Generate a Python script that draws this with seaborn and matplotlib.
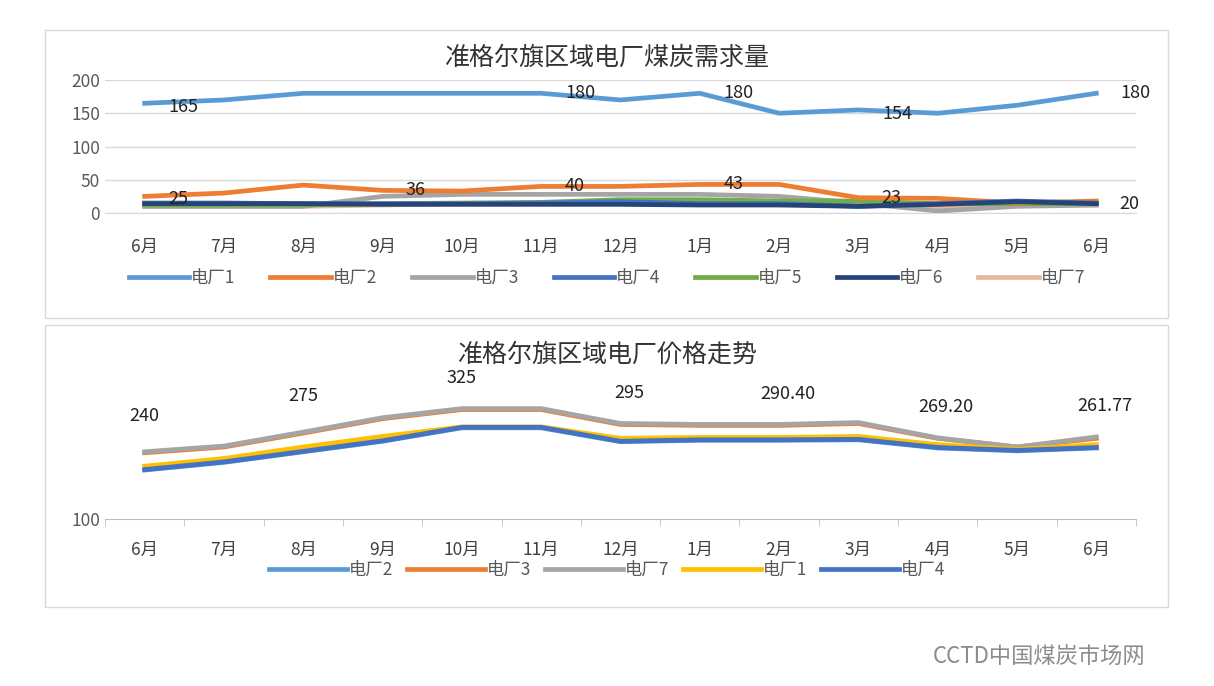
import matplotlib
matplotlib.use("Agg")
import matplotlib.pyplot as plt
from matplotlib import font_manager as fm
import seaborn as sns
import pandas as pd
from matplotlib.patches import Rectangle

cjk = [f.name for f in fm.fontManager.ttflist if "CJK" in f.name]
plt.rcParams["font.family"] = ["Noto Sans CJK SC"] + sorted(set(cjk)) + ["DejaVu Sans"]

months = ["6月","7月","8月","9月","10月","11月","12月","1月","2月","3月","4月","5月","6月"]

# Coal demand
d1 = [165,170,180,180,180,180,170,180,150,155,150,162,180]
d2 = [25,30,42,34,33,40,40,43,43,23,22,15,18]
d3 = [10,10,10,25,28,28,28,28,25,15,3,10,12]
d4 = [15,15,14,14,14,15,17,14,14,10,14,18,15]
d5 = [12,12,12,14,15,16,20,20,18,18,14,14,14]
d6 = [14,14,14,13,13,13,13,12,12,10,13,17,14]
d7 = [10,10,10,12,14,15,15,15,15,12,8,12,12]
demand_names = ["电厂1","电厂2","电厂3","电厂4","电厂5","电厂6","电厂7"]
demand_colors = ["#5B9BD5","#ED7D31","#A5A5A5","#4472C4","#70AD47","#264478","#E8B79A"]
demand_labels_1 = [(0,"165"),(5,"180"),(7,"180"),(9,"154"),(12,"180")]
demand_labels_2 = [(0,"25"),(3,"36"),(5,"40"),(7,"43"),(9,"23"),(12,"20")]

# Prices
p2 = [202,218,240,262,290,290,261,264,264,265,248,242,248]
p3 = [238,250,279,309,328,328,297,295,295,299,268,250,268]
p7 = [240,252,281,311,330,330,299,297,297,301,269,250,271]
p1 = [210,226,250,272,292,292,268,270,270,272,255,245,255]
p4 = [203,219,241,263,291,291,262,265,265,266,249,243,249]
price_names = ["电厂2","电厂3","电厂7","电厂1","电厂4"]
price_colors = ["#5B9BD5","#ED7D31","#A5A5A5","#FFC000","#4472C4"]
price_labels = ["240","","275","","325","","295","","290.40","","269.20","","261.77"]

fig = plt.figure(figsize=(12.14, 6.86), dpi=100)
W, H = 1214, 686
def box(x0, y0, x1, y1):
    fig.patches.append(Rectangle((x0/W, 1-y1/H), (x1-x0)/W, (y1-y0)/H,
                                 transform=fig.transFigure, fill=False, ec="#D9D9D9", lw=1))
box(45, 30, 1168, 318)
box(45, 325, 1168, 607)

idx = list(range(len(months)))

# --- top chart
ax1 = fig.add_axes([105/W, 1-213/H, 1031/W, 133/H])
demand = [d1,d2,d3,d4,d5,d6,d7]
df1 = pd.DataFrame([(i, v, n) for n, s in zip(demand_names, demand) for i, v in zip(idx, s)],
                   columns=["x","y","plant"])
order_draw = ["电厂7","电厂3","电厂5","电厂2","电厂4","电厂6","电厂1"]
pal1 = dict(zip(demand_names, demand_colors))
for n in order_draw:
    sns.lineplot(data=df1[df1.plant == n], x="x", y="y", color=pal1[n], lw=3.4, ax=ax1, legend=False)
ax1.set_xlim(-0.5, 12.5); ax1.set_ylim(0, 200)
ax1.set_yticks([0,50,100,150,200])
ax1.set_xticks(idx); ax1.set_xticklabels(months)
ax1.grid(axis="y", color="#D9D9D9", lw=1); ax1.set_axisbelow(True)
for s in ["top","right","left"]: ax1.spines[s].set_visible(False)
ax1.spines["bottom"].set_color("#D9D9D9")
ax1.tick_params(length=0, labelsize=12.5, colors="#595959")
ax1.tick_params(axis="x", pad=18, colors="#404040")
ax1.set_xlabel(""); ax1.set_ylabel("")
for i, t in demand_labels_1:
    ax1.annotate(t, (i, d1[i]), xytext=(28, -3 if i in (0, 9) else 0), textcoords="offset points",
                 ha="center", va="center", fontsize=13, color="#222222")
for i, t in demand_labels_2:
    ax1.annotate(t, (i, d2[i]), xytext=(24, 0 if i not in (0, 12) else -2), textcoords="offset points",
                 ha="center", va="center", fontsize=13, color="#222222")
fig.text(0.5, 1-58/H, "准格尔旗区域电厂煤炭需求量", ha="center", va="center", fontsize=18, color="#333333")
h1 = [plt.Line2D([], [], color=c, lw=3.4) for c in demand_colors]
fig.legend(h1, demand_names, loc="center", bbox_to_anchor=(0.5, 1-278/H), ncol=7, frameon=False,
           fontsize=12.5, handlelength=3.5, columnspacing=2.0, handletextpad=0.1, labelcolor="#595959")

# --- bottom chart
ax2 = fig.add_axes([105/W, 1-519/H, 1031/W, 144/H])
prices = [p2,p3,p7,p1,p4]
df2 = pd.DataFrame([(i, v, n) for n, s in zip(price_names, prices) for i, v in zip(idx, s)],
                   columns=["x","y","plant"])
sns.lineplot(data=df2, x="x", y="y", hue="plant", hue_order=price_names, palette=price_colors,
             lw=3.4, ax=ax2, legend=False)
ax2.set_xlim(-0.5, 12.5); ax2.set_ylim(100, 400)
ax2.set_yticks([100])
ax2.set_xticks(idx); ax2.set_xticklabels(months)
ax2.set_xticks([i + 0.5 for i in range(-1, 13)], minor=True)
for s in ["top","right","left"]: ax2.spines[s].set_visible(False)
ax2.spines["bottom"].set_color("#BFBFBF")
ax2.tick_params(axis="x", which="major", length=0, pad=16, labelsize=12.5, colors="#404040")
ax2.tick_params(axis="x", which="minor", length=5, color="#BFBFBF")
ax2.tick_params(axis="y", length=0, labelsize=12.5, colors="#595959")
ax2.set_xlabel(""); ax2.set_ylabel("")
for i, t in enumerate(price_labels):
    if t:
        ax2.annotate(t, (i, p7[i]), xytext=(6 if i >= 6 else 0, 26 if i < 4 else 22), textcoords="offset points",
                     ha="center", va="center", fontsize=13, color="#222222")
fig.text(0.5, 1-355/H, "准格尔旗区域电厂价格走势", ha="center", va="center", fontsize=18, color="#333333")
h2 = [plt.Line2D([], [], color=c, lw=3.4) for c in price_colors]
fig.legend(h2, price_names, loc="center", bbox_to_anchor=(0.5, 1-570/H), ncol=5, frameon=False,
           fontsize=12.5, handlelength=4.5, columnspacing=0.8, handletextpad=0.1, labelcolor="#595959")

fig.text(1145/W, 1-657/H, "CCTD中国煤炭市场网", ha="right", va="center", fontsize=16, color="#8C8C8C")

fig.savefig("out.png", dpi=100)
